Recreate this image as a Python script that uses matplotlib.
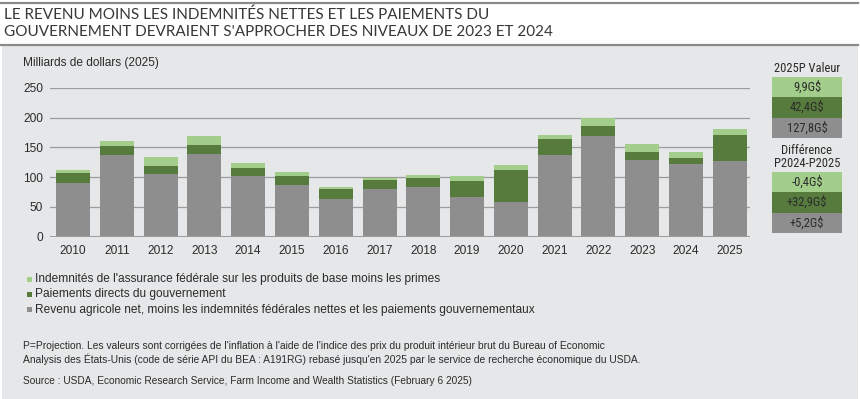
import matplotlib
matplotlib.use("Agg")
import matplotlib.pyplot as plt
from matplotlib.patches import Rectangle
from matplotlib.lines import Line2D
from matplotlib import font_manager

years = ["2010", "2011", "2012", "2013", "2014", "2015", "2016", "2017",
         "2018", "2019", "2020", "2021", "2022", "2023", "2024", "2025"]
revenu_net = [89.6, 137.1, 105.2, 139.3, 101.8, 86.7, 62.7, 80.6,
              83.9, 66.1, 57.7, 137.1, 169.0, 129.2, 122.6, 127.8]
paiements_directs = [17.8, 15.1, 14.0, 14.0, 13.5, 14.6, 16.8, 14.5,
                     15.4, 26.8, 54.7, 27.3, 17.2, 12.9, 9.5, 42.4]
indemnites = [4.0, 7.8, 14.5, 15.1, 8.4, 7.3, 3.4, 3.4,
              4.3, 9.4, 8.4, 6.2, 12.4, 13.4, 10.3, 9.9]
y_ticks = [0, 50, 100, 150, 200, 250]

valeur_2025 = ["9,9G$", "42,4G$", "127,8G$"]
difference = ["-0,4G$", "+32,9G$", "+5,2G$"]

legend_labels = [
    "Indemnités de l'assurance fédérale sur les produits de base moins les primes",
    "Paiements directs du gouvernement",
    "Revenu agricole net, moins les indemnités fédérales nettes et les paiements gouvernementaux",
]
title_lines = ["LE REVENU MOINS LES INDEMNITÉS NETTES ET LES PAIEMENTS DU",
               "GOUVERNEMENT DEVRAIENT S'APPROCHER DES NIVEAUX DE 2023 ET 2024"]
note_lines = [
    "P=Projection. Les valeurs sont corrigées de l'inflation à l'aide de l'indice des prix du produit intérieur brut du Bureau of Economic",
    "Analysis des États-Unis (code de série API du BEA : A191RG) rebasé jusqu'en 2025 par le service de recherche économique du USDA.",
]
source = "Source : USDA, Economic Research Service, Farm Income and Wealth Statistics (February 6 2025)"

C_GRAY = "#8d8e8d"
C_DARK = "#567b3d"
C_LIGHT = "#a2cd8b"
C_BG = "#e6e7e8"
C_TEXT = "#2b2b2b"

available = {f.name for f in font_manager.fontManager.ttflist}
BODY = [c for c in ['Liberation Sans'] if c in available] + ['DejaVu Sans']
NARROW = [c for c in ['Roboto Condensed', 'Liberation Sans Narrow'] if c in available] + BODY
plt.rcParams['font.family'] = BODY

W, H = 860, 399
fig = plt.figure(figsize=(W / 100, H / 100), dpi=100)
fig.patch.set_facecolor("white")

def fx(x):
    return x / W

def fy(y):
    return 1 - y / H

# background panel
fig.add_artist(Rectangle((fx(2), 0), fx(856), fy(45), transform=fig.transFigure,
                         facecolor=C_BG, edgecolor="none", zorder=0))
fig.add_artist(Line2D([fx(0), fx(858)], [fy(2.5), fy(2.5)], transform=fig.transFigure,
                      color="#8a8a8a", lw=1.6))
fig.add_artist(Line2D([fx(0), fx(858)], [fy(45), fy(45)], transform=fig.transFigure,
                      color="#8a8a8a", lw=1.6))

TITLE_FONT = [c for c in ['Lato', 'Open Sans'] if c in available] + ['DejaVu Sans']
for i, line in enumerate(title_lines):
    fig.text(fx(4), fy(14.5 + 18 * i), line, fontsize=11.0, color="#383838",
             va="center", ha="left", family=TITLE_FONT)

# axes
ax_left, ax_right = 50, 750
ax_top, ax_bot = 87.7, 236.7
ax = fig.add_axes([fx(ax_left), fy(ax_bot), fx(ax_right - ax_left), (ax_bot - ax_top) / H])
ax.set_facecolor("none")
x = list(range(len(years)))
bw = 0.777
ax.bar(x, revenu_net, width=bw, color=C_GRAY, zorder=3)
ax.bar(x, paiements_directs, width=bw, bottom=revenu_net, color=C_DARK, zorder=3)
bottom3 = [a + b for a, b in zip(revenu_net, paiements_directs)]
ax.bar(x, indemnites, width=bw, bottom=bottom3, color=C_LIGHT, zorder=3)

ax.set_xlim(-0.525, 15.46)
ax.set_ylim(0, 250)
ax.set_yticks(y_ticks)
ax.set_yticklabels([str(v) for v in y_ticks])
ax.set_xticks(x)
ax.set_xticklabels(years)
ax.tick_params(axis="both", length=0, labelsize=8.6, colors=C_TEXT)
ax.tick_params(axis="y", pad=5)
ax.tick_params(axis="x", pad=6)
for s in ax.spines.values():
    s.set_visible(False)
ax.grid(axis="y", color="#9c9c9c", lw=0.9, zorder=0)
ax.axhline(0, color="#9c9c9c", lw=1.4, zorder=4)

fig.text(fx(23), fy(63), "Milliards de dollars (2025)", fontsize=8.55, color=C_TEXT,
         va="center", ha="left")

# right-hand summary boxes
bx0, bx1 = 772.3, 841.7
cols = [C_LIGHT, C_DARK, C_GRAY]

def box_group(y0, labels):
    hgt = 20.5
    for i, (lab, c) in enumerate(zip(labels, cols)):
        yt = y0 + i * hgt
        fig.add_artist(Rectangle((fx(bx0), fy(yt + hgt)), fx(bx1 - bx0), hgt / H,
                                 transform=fig.transFigure, facecolor=c, edgecolor="none"))
        fig.text(fx((bx0 + bx1) / 2), fy(yt + hgt / 2), lab, ha="center", va="center",
                 fontsize=9.0, color=C_TEXT, family=NARROW)

fig.text(fx(807), fy(68.3), "2025P Valeur", ha="center", va="center", fontsize=9.0,
         color=C_TEXT, family=NARROW)
box_group(76.7, valeur_2025)
fig.text(fx(807), fy(150), "Différence", ha="center", va="center", fontsize=9.0,
         color=C_TEXT, family=NARROW)
fig.text(fx(807), fy(163.3), "P2024-P2025", ha="center", va="center", fontsize=9.0,
         color=C_TEXT, family=NARROW)
box_group(171.5, difference)

# legend
for i, (lab, c) in enumerate(zip(legend_labels, cols)):
    yy = 279.3 + i * 15.1
    fig.add_artist(Rectangle((fx(26.7), fy(yy + 2.8)), fx(5.2), 5.6 / H,
                             transform=fig.transFigure, facecolor=c, edgecolor="none"))
    fig.text(fx(35), fy(yy), lab, ha="left", va="center", fontsize=8.6, color=C_TEXT)

for i, line in enumerate(note_lines):
    fig.text(fx(22.7), fy(345.7 + 13.4 * i), line, ha="left", va="center", fontsize=7.35,
             color=C_TEXT)
fig.text(fx(22.7), fy(380.7), source, ha="left", va="center", fontsize=7.3, color=C_TEXT)

fig.savefig("out.png", dpi=100, facecolor=fig.get_facecolor())
